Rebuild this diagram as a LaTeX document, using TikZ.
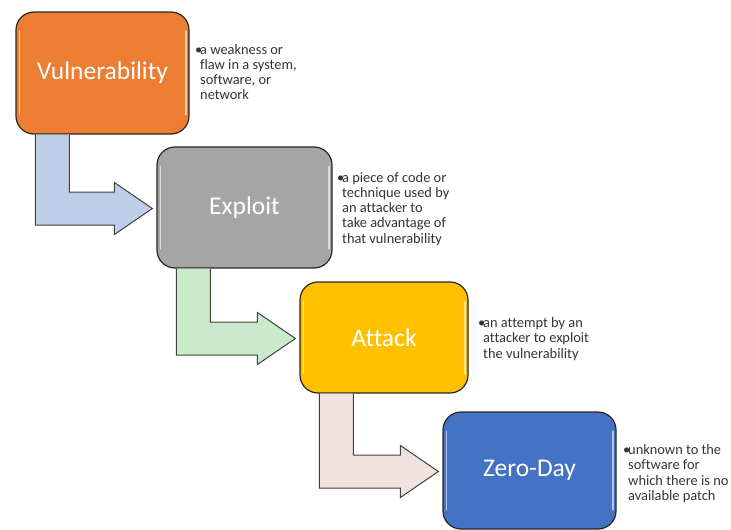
\documentclass[tikz,border=0pt]{standalone}
\usepackage{fontspec}
\setmainfont{Carlito}[Ligatures=NoCommon]
\usetikzlibrary{calc}

\definecolor{vulnC}{HTML}{ED7D31}
\definecolor{explC}{HTML}{A5A5A5}
\definecolor{attC}{HTML}{FFC000}
\definecolor{zeroC}{HTML}{4472C4}
\definecolor{boxline}{HTML}{262626}
\definecolor{arrowline}{HTML}{404040}
\definecolor{noteC}{HTML}{333333}
\definecolor{blueArrow}{HTML}{BDCFE8}
\definecolor{greenArrow}{HTML}{C9EACB}
\definecolor{pinkArrow}{HTML}{F1E2DF}

\tikzset{
  stage/.style={draw=boxline, line width=1.2pt, rounded corners=18pt,
    text=white, font=\fontsize{25.5}{30}\selectfont, inner sep=0pt},
  note/.style={anchor=base west, inner sep=0pt, text=noteC,
    font=\fontsize{14.4}{15.3}\selectfont},
  bendarrow/.style={draw=arrowline, line width=1pt, line join=miter},
  gloss/.style={white, opacity=0.6, line width=1.8pt, line cap=round},
}

% bent block arrow from the bottom of one stage to the left side of the next
\newcommand\bentarrow[3]{%
  \draw[bendarrow, fill=#3] let \p1=(#1.south west), \p2=(#2.west) in
    (\x1+20pt,\y1) -- (\x1+20pt,\y2-17.5pt) -- (\x2-42pt,\y2-17.5pt)
    -- (\x2-42pt,\y2-27pt) -- (\x2-4pt,\y2-1pt) -- (\x2-42pt,\y2+25pt)
    -- (\x2-42pt,\y2+15.5pt) -- (\x1+54pt,\y2+15.5pt) -- (\x1+54pt,\y1);
}
% light bevel strips inside a stage box
\newcommand\glossy[1]{%
  \draw[gloss] ($(#1.north west)+(4,20)$) -- ($(#1.south west)+(4,-20)$);
  \draw[gloss] ($(#1.north east)+(-4,20)$) -- ($(#1.south east)+(-4,-20)$);
}
\newcommand\bulletcell{\makebox[5pt][l]{•}}

\begin{document}
\begin{tikzpicture}[x=1pt,y=-1pt]
\useasboundingbox (0,0) rectangle (731,530);

% stages
\node[stage, fill=vulnC, minimum width=173pt, minimum height=122pt] (v) at (102.5,73) {Vulnerability};
\node[stage, fill=explC, minimum width=175pt, minimum height=121pt] (e) at (244.5,207.5) {Exploit};
\node[stage, fill=attC, minimum width=168pt, minimum height=111pt] (a) at (384,337.5) {Attack};
\node[stage, fill=zeroC, minimum width=173pt, minimum height=117pt] (z) at (529.5,470.5) {Zero-Day};

\glossy{v}
\glossy{e}
\glossy{a}
\glossy{z}

% connectors
\bentarrow{v}{e}{blueArrow}
\bentarrow{e}{a}{greenArrow}
\bentarrow{a}{z}{pinkArrow}

% descriptions
\node[note] (nv) at (195,54) {\begin{tabular}[t]{@{}l@{}l@{}}
  \bulletcell & a weakness or\\ & flaw in a system,\\ & software, or\\ & network\end{tabular}};
\node[note] (ne) at (337,182) {\begin{tabular}[t]{@{}l@{}l@{}}
  \bulletcell & a piece of code or\\ & technique used by\\ & an attacker to\\ & take advantage of\\ & that vulnerability\end{tabular}};
\node[note] (na) at (478,327.5) {\begin{tabular}[t]{@{}l@{}l@{}}
  \bulletcell & an attempt by an\\ & attacker to exploit\\ & the vulnerability\end{tabular}};
\node[note] (nz) at (623,454.5) {\begin{tabular}[t]{@{}l@{}l@{}}
  \bulletcell & unknown to the\\ & software for\\ & which there is no\\ & available patch\end{tabular}};
\end{tikzpicture}
\end{document}
